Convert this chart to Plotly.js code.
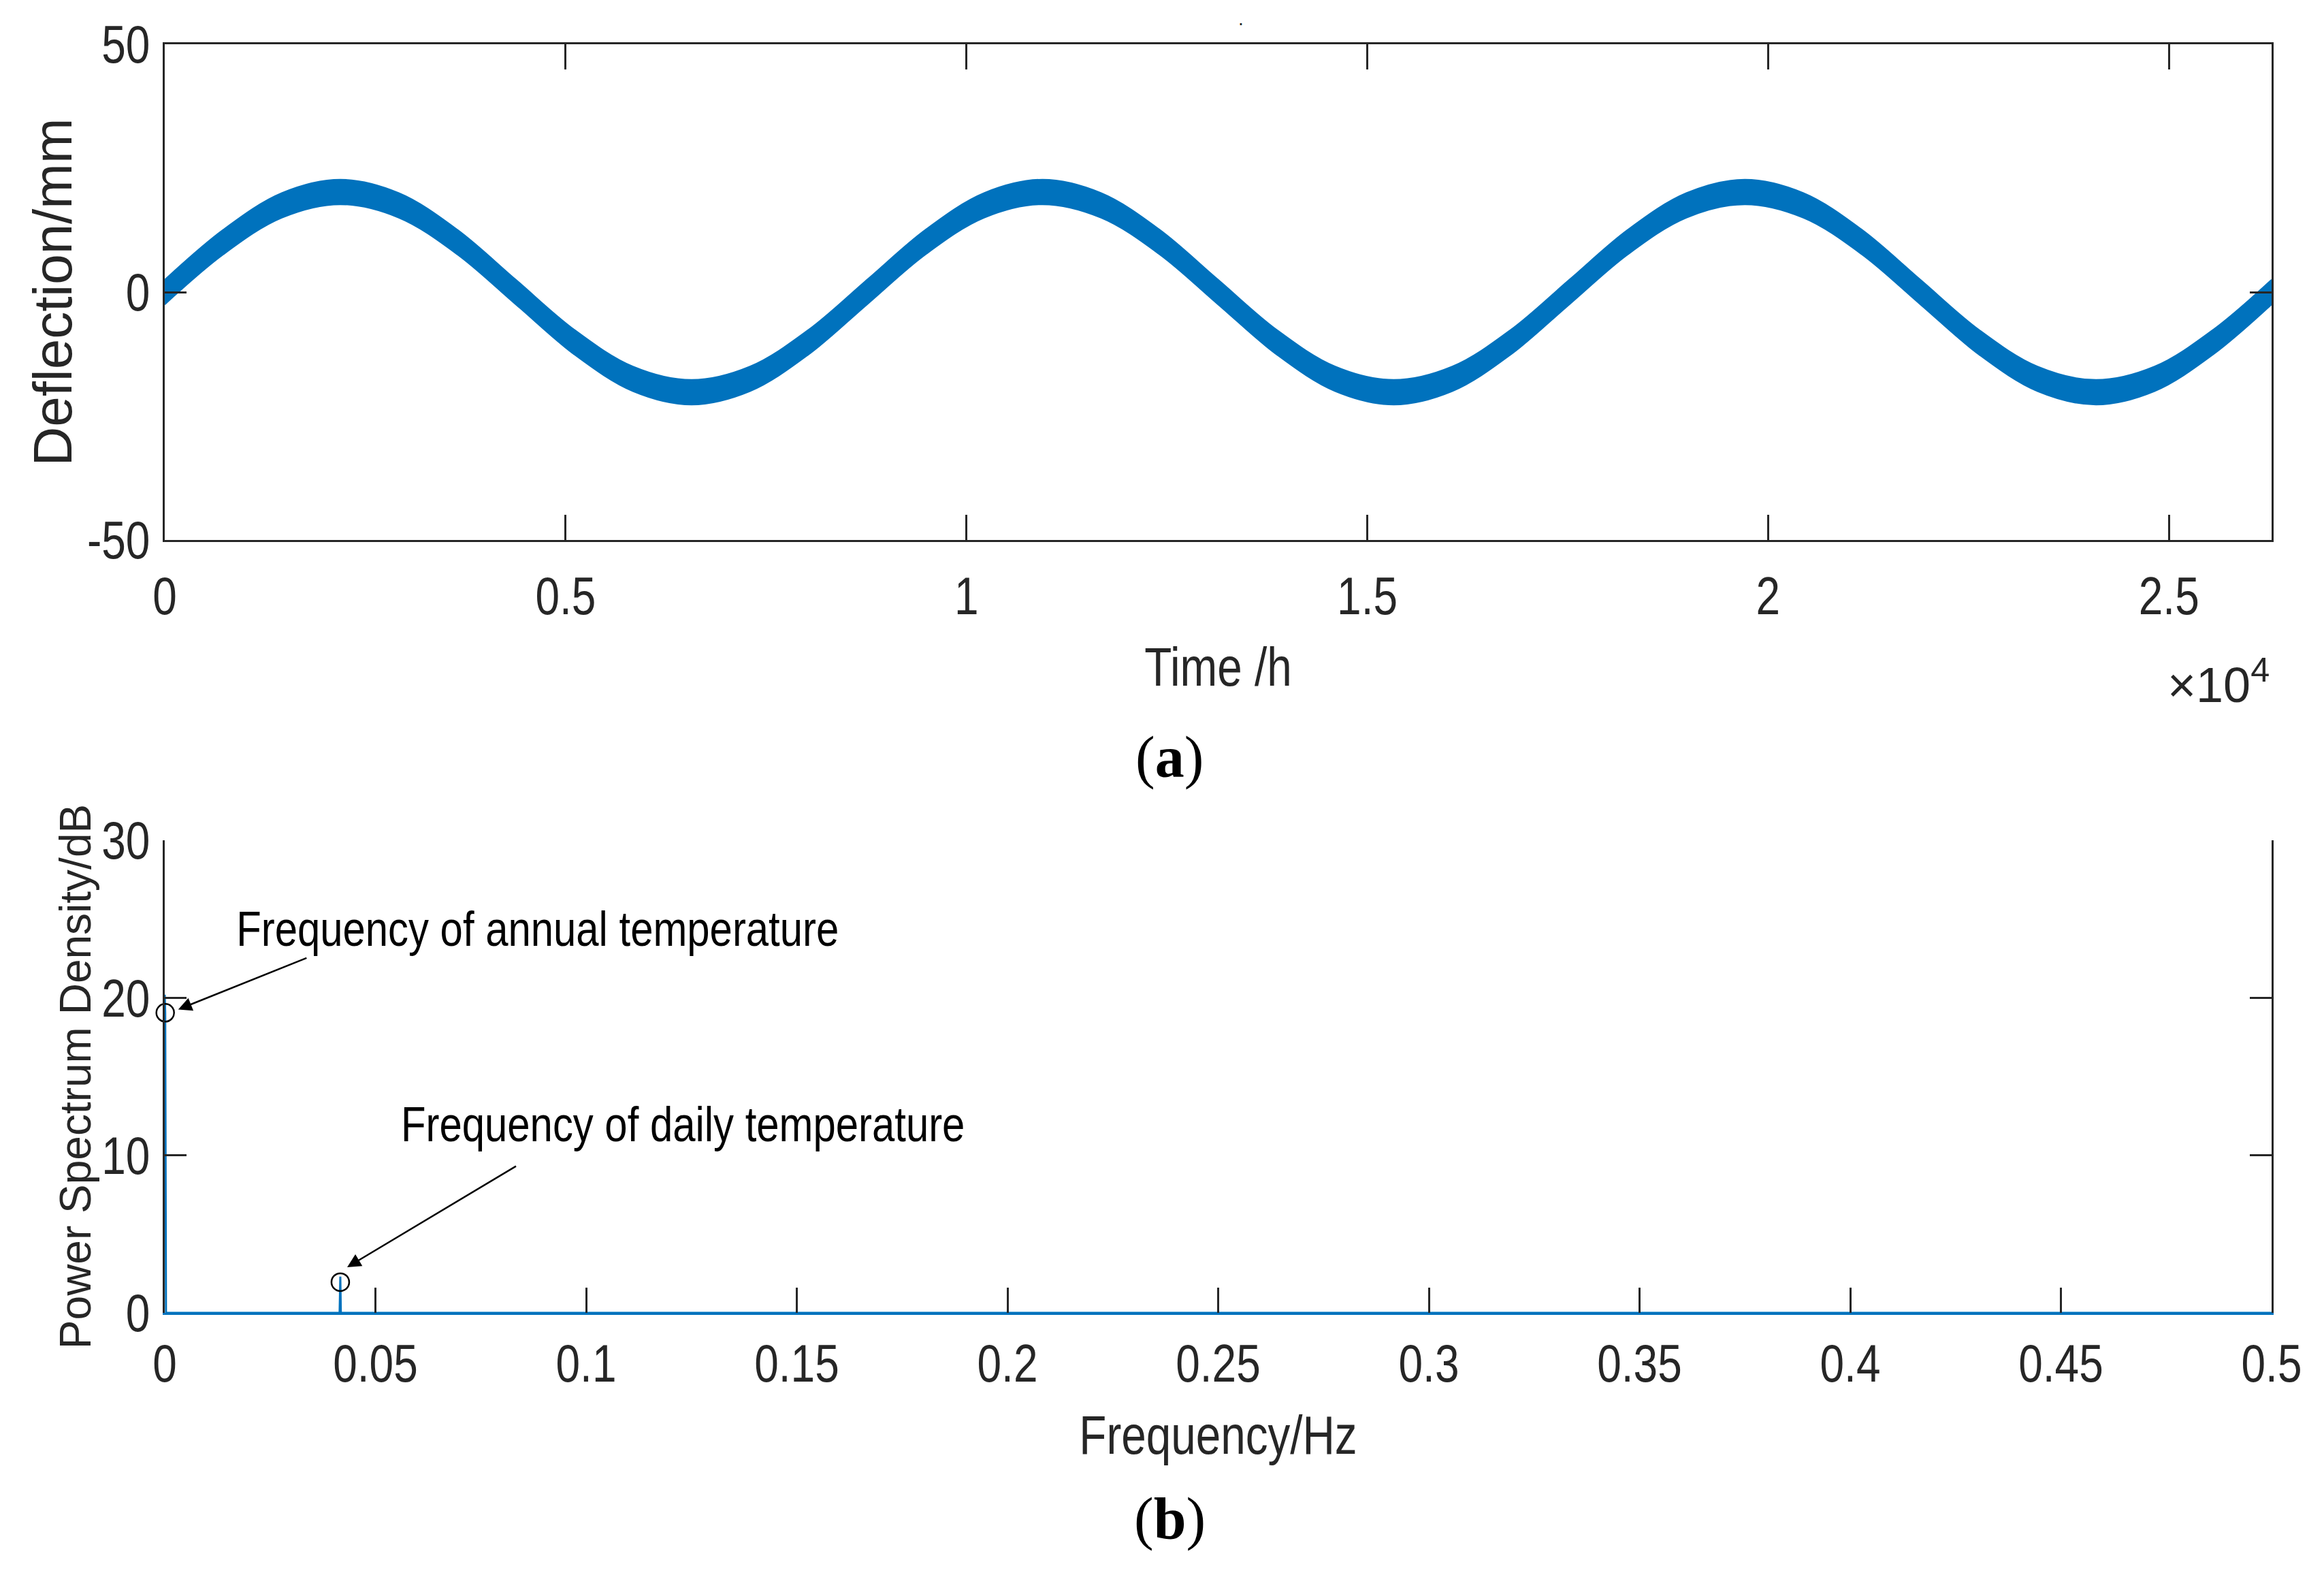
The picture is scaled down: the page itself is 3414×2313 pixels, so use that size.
<!DOCTYPE html>
<html>
<head>
<meta charset="utf-8">
<script src="https://cdn.plot.ly/plotly-3.0.1.min.js"></script>
<style>html,body{margin:0;padding:0;background:#fff;}#chart{width:3414px;height:2313px;}</style>
</head>
<body>
<div id="chart"></div>
<script>
// ---- (a) deflection band (envelope of the hourly record) ----
const timeHours = [0,730,1460,2190,2920,3650,4380,5110,5840,6570,7300,8030,
  8760,9490,10220,10950,11680,12410,13140,13870,14600,15330,16060,16790,
  17520,18250,18980,19710,20440,21170,21900,22630,23360,24090,24820,25550,26280];
const deflUpper = [2.5,12.6,20.0,22.7,20.0,12.6,2.5,-7.6,-15.0,-17.7,-15.0,-7.6,
  2.5,12.6,20.0,22.7,20.0,12.6,2.5,-7.6,-15.0,-17.7,-15.0,-7.6,
  2.5,12.6,20.0,22.7,20.0,12.6,2.5,-7.6,-15.0,-17.7,-15.0,-7.6,2.5];
const deflLower = [-2.5,7.6,15.0,17.7,15.0,7.6,-2.5,-12.6,-20.0,-22.7,-20.0,-12.6,
  -2.5,7.6,15.0,17.7,15.0,7.6,-2.5,-12.6,-20.0,-22.7,-20.0,-12.6,
  -2.5,7.6,15.0,17.7,15.0,7.6,-2.5,-12.6,-20.0,-22.7,-20.0,-12.6,-2.5];
const timeTickVals = [0,5000,10000,15000,20000,25000];
const timeTickText = ['0','0.5','1','1.5','2','2.5'];
const deflTickVals = [-50,0,50];
const deflTickText = ['-50','0','50'];

// ---- (b) power spectrum ----
const freqHz = [0,0.000114,0.00023,0.0003,0.0415,0.04167,0.0418,0.5];
const psdDb  = [20.2,19.05,7.4,0,0,2.3,0,0];
const peakFreq = [0.000114,0.04167];
const peakPsd  = [19.05,1.95];
const freqTickVals = [0,0.05,0.1,0.15,0.2,0.25,0.3,0.35,0.4,0.45,0.5];
const freqTickText = ['0','0.05','0.1','0.15','0.2','0.25','0.3','0.35','0.4','0.45','0.5'];
const psdTickVals = [0,10,20,30];
const psdTickText = ['0','10','20','30'];

const BLUE = '#0072BD', INK = '#262626';
const SANS = "'Liberation Sans',Arial,sans-serif";
const SERIF = "'Liberation Serif','Times New Roman',serif";
const W = 3414, H = 2313;
const px = v => v / W, py = v => 1 - v / H;

const traces = [
  {x: timeHours, y: deflLower, xaxis:'x', yaxis:'y', mode:'lines',
   line:{color:BLUE, width:2, shape:'spline', smoothing:1}, hoverinfo:'skip'},
  {x: timeHours, y: deflUpper, xaxis:'x', yaxis:'y', mode:'lines', fill:'tonexty',
   fillcolor:BLUE, line:{color:BLUE, width:2, shape:'spline', smoothing:1}, hoverinfo:'skip'},
  {x: freqHz, y: psdDb, xaxis:'x2', yaxis:'y2', mode:'lines',
   line:{color:BLUE, width:3}},
  {x: peakFreq, y: peakPsd, xaxis:'x2', yaxis:'y2', mode:'markers', cliponaxis:false,
   marker:{symbol:'circle-open', size:26, color:'#000', line:{width:2.5, color:'#000'}}}
];

const tickFont = {family: SANS, size: 78, color: INK};
const baseAx = {showline:true, linecolor:INK, linewidth:3, ticks:'inside', tickwidth:3,
  tickcolor:INK, showgrid:false, zeroline:false, tickfont:tickFont, fixedrange:true};

const xDom = [px(242), px(3337)];
const layout = {
  width: W, height: H, margin:{l:0,r:0,t:0,b:0}, paper_bgcolor:'#fff', plot_bgcolor:'#fff',
  showlegend:false,
  xaxis: Object.assign({}, baseAx, {domain:xDom, anchor:'y', range:[0,26280], mirror:'ticks',
    ticklen:37, tickmode:'array', tickvals:timeTickVals, ticktext:timeTickText,
    ticklabelstandoff:12,
    title:{text:'Time /h', font:{family:SANS, size:80, color:INK}, standoff:34}}),
  yaxis: Object.assign({}, baseAx, {domain:[py(793), py(65)], anchor:'x', range:[-50,50], mirror:'ticks',
    ticklen:32, tickmode:'array', tickvals:deflTickVals, ticktext:deflTickText, ticklabelstandoff:3,
    title:{text:'Deflection/mm', font:{family:SANS, size:80, color:INK}, standoff:8}}),
  xaxis2: Object.assign({}, baseAx, {domain:xDom, anchor:'y2', range:[0,0.5], mirror:false,
    linecolor:BLUE, ticklen:37, tickmode:'array', tickvals:freqTickVals, ticktext:freqTickText,
    ticklabelstandoff:4,
    title:{text:'Frequency/Hz', font:{family:SANS, size:80, color:INK}, standoff:35}}),
  xaxis3: Object.assign({}, baseAx, {domain:xDom, anchor:'y2', overlaying:'x2', side:'top',
    range:[0,0.5], ticklen:37, tickmode:'array', tickvals:freqTickVals, showticklabels:false}),
  yaxis2: Object.assign({}, baseAx, {domain:[py(1928), py(1234)], anchor:'x2', range:[0,30], mirror:'ticks',
    ticklen:32, tickmode:'array', tickvals:psdTickVals, ticktext:psdTickText, ticklabelstandoff:3,
    title:{text:'Power Spectrum Density/dB', font:{family:SANS, size:64, color:INK}, standoff:2}}),
  annotations: [
    {xref:'x2', yref:'y2', x:0.0884, y:24.4, xanchor:'center', yanchor:'middle', showarrow:false,
     text:'Frequency of annual temperature', font:{family:SANS, size:73, color:'#000'}},
    {xref:'x2', yref:'y2', x:0.0032, y:19.26, axref:'x2', ayref:'y2', ax:0.0339, ay:22.55,
     text:'', showarrow:true, arrowhead:2, arrowsize:1.6, arrowwidth:2.5, arrowcolor:'#000', standoff:0},
    {xref:'x2', yref:'y2', x:0.1230, y:12.0, xanchor:'center', yanchor:'middle', showarrow:false,
     text:'Frequency of daily temperature', font:{family:SANS, size:73, color:'#000'}},
    {xref:'x2', yref:'y2', x:0.0433, y:2.9, axref:'x2', ayref:'y2', ax:0.0836, ay:9.35,
     text:'', showarrow:true, arrowhead:2, arrowsize:1.6, arrowwidth:2.5, arrowcolor:'#000', standoff:0},
    {xref:'paper', yref:'paper', x:px(3259), y:py(1000), xanchor:'center', yanchor:'middle', showarrow:false,
     text:'×10<sup>4</sup>', font:{family:SANS, size:72, color:INK}, name:'exponent'},
    {xref:'paper', yref:'paper', x:px(1718), y:py(1112), xanchor:'center', yanchor:'middle', showarrow:false,
     text:'(<b>a</b>)', font:{family:SERIF, size:86, color:'#000'}},
    {xref:'paper', yref:'paper', x:px(1718), y:py(2230), xanchor:'center', yanchor:'middle', showarrow:false,
     text:'(<b>b</b>)', font:{family:SERIF, size:86, color:'#000'}},
    {xref:'paper', yref:'paper', x:px(1823), y:py(28), xanchor:'center', yanchor:'middle', showarrow:false,
     text:'.', font:{family:SANS, size:28, color:INK}}
  ]
};

// The reference uses a narrow sans face for horizontal text; condense Liberation Sans to match,
// and nudge the rotated y titles to where the reference draws them.
const NARROW_RATIO = 0.82;
function finish(gd) {
  const nodes = gd.querySelectorAll('g[class$="tick"] text, text.xtitle, text.x2title, text.annotation-text');
  nodes.forEach(t => {
    const s = (t.textContent || '').trim();
    if (!s || s === '.' || s.indexOf('(') >= 0 || s.indexOf('×') >= 0) return;
    const len = t.getComputedTextLength();
    if (!(len > 0)) return;
    t.setAttribute('lengthAdjust', 'spacingAndGlyphs');
    t.setAttribute('textLength', (len * NARROW_RATIO).toFixed(2));
  });
  const shift = {ytitle: 32, y2title: 22};
  Object.keys(shift).forEach(cls => {
    const t = gd.querySelector('text.' + cls);
    if (!t) return;
    const tr = t.getAttribute('transform') || '';
    t.setAttribute('transform', 'translate(' + shift[cls] + ',0) ' + tr);
  });
}

Plotly.newPlot('chart', traces, layout, {staticPlot:true, displayModeBar:false}).then(finish);
</script>
</body>
</html>
